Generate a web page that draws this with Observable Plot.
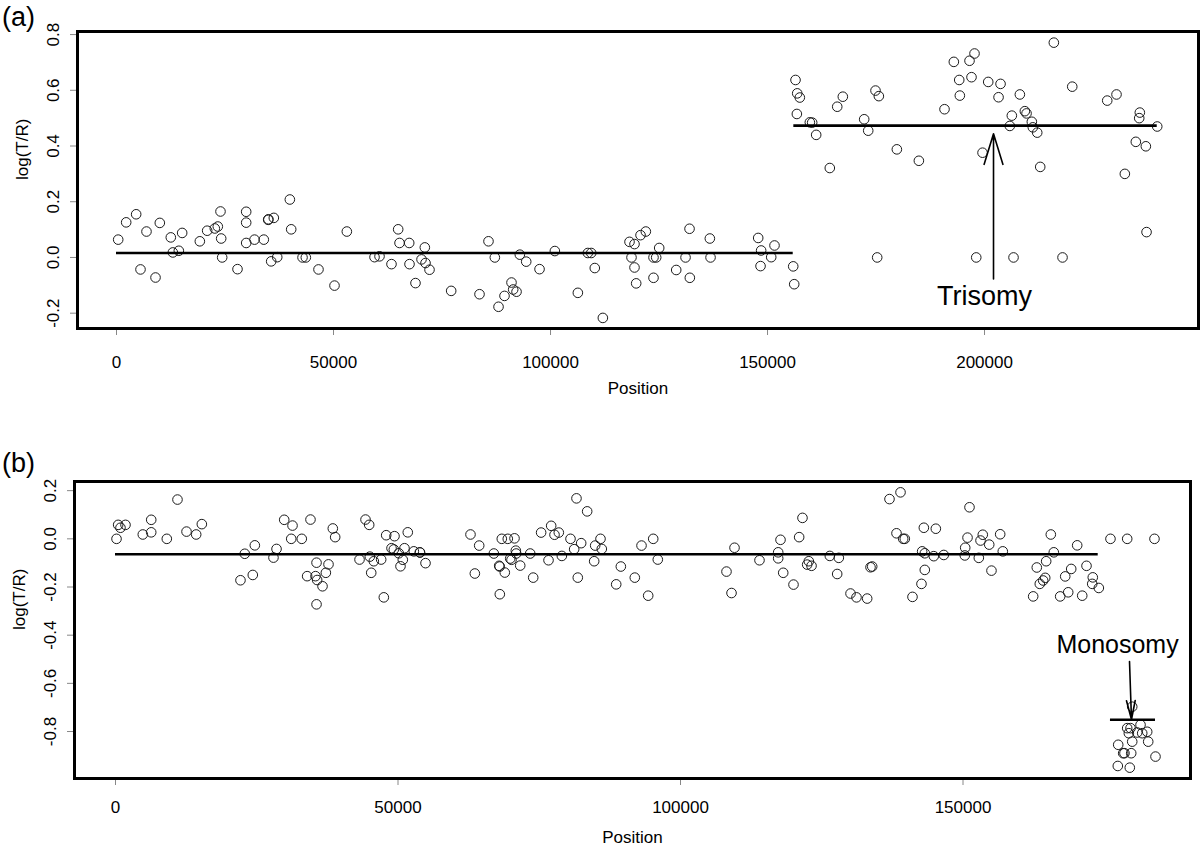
<!DOCTYPE html>
<html>
<head>
<meta charset="utf-8">
<script src="https://cdn.jsdelivr.net/npm/d3@7"></script>
<script src="https://cdn.jsdelivr.net/npm/@observablehq/plot@0.6"></script>
<style>
  html, body { margin: 0; padding: 0; background: #fff; }
  #wrap { position: relative; width: 1200px; height: 854px; overflow: hidden; font-family: "Liberation Sans", Arial, Helvetica, sans-serif; }
  .panel { position: absolute; left: 0; }
  .plabel { position: absolute; left: 2px; font-size: 27px; line-height: 27px; color: #000; }
</style>
</head>
<body>
<div id="wrap">
  <div class="plabel" style="top:4px">(a)</div>
  <div class="plabel" style="top:450px">(b)</div>
  <div id="pa" class="panel" style="top:0px"></div>
  <div id="pb" class="panel" style="top:440px"></div>
</div>
<script>
// ---------- Panel (a): trisomy ----------
const posA = [
  390, 2230, 4530, 5530, 6910, 8990, 9980, 12510, 12980, 14360, 15130, 19200, 20890, 22650, 23340, 23960, 24120, 24350,
  27880, 29880, 29880, 29880, 31800, 33940, 34950, 35000, 36250, 35640, 37030, 39940, 40250, 42860, 43620, 46540, 50230,
  53070, 59450, 60600, 63360, 64900, 65210, 67510, 67440, 68890, 70280, 71040, 71200, 72120, 77110, 83640, 85710, 87170,
  88020, 89400, 91010, 91400, 92170, 92930, 94400, 97470, 101000, 106300, 108600, 109380, 110200, 112060, 118200, 118660,
  119350, 119350, 119740, 120740, 121960, 123730, 124350, 123730, 125040, 128960, 131110, 132030, 132100, 136710, 136870,
  147850, 148530, 148390, 150850, 151610, 155920, 156150,
  156450, 156840, 157440, 156760, 159750, 160290, 161210, 164350, 166060, 167350, 172270, 173200, 174880, 175650, 175270,
  179800, 184870, 190780, 192930, 194170, 194310, 196540, 197690, 197000, 198090, 199540, 200850, 203230, 203690, 205830,
  206290, 206680, 208140, 209290, 209680, 210900, 211130, 212140, 212830, 215970, 217970, 220210, 228270, 230410, 232330,
  234860, 235780, 235640, 237170, 237330, 239790
];
const valA = [
  0.064, 0.126, 0.155, -0.043, 0.093, -0.072, 0.124, 0.072, 0.018, 0.024, 0.088, 0.058, 0.096, 0.104, 0.111, 0.165, 0.068, 0.0,
  -0.042, 0.164, 0.125, 0.052, 0.064, 0.064, 0.135, 0.137, 0.142, -0.014, 0.001, 0.208, 0.101, 0.0, 0.0, -0.043, -0.101,
  0.093, 0.001, 0.004, -0.024, 0.101, 0.052, -0.024, 0.052, -0.092, -0.007, 0.036, -0.020, -0.044, -0.120, -0.132, 0.058, 0.0,
  -0.177, -0.138, -0.090, -0.115, -0.123, 0.010, -0.015, -0.042, 0.023, -0.127, 0.016, 0.016, -0.038, -0.217, 0.056, 0.0,
  0.048, -0.036, -0.093, 0.080, 0.093, 0.0, 0.0, -0.073, 0.034, -0.045, 0.0, 0.103, -0.073, 0.068, 0.0,
  0.070, 0.025, -0.031, 0.001, 0.043, -0.032, -0.096,
  0.637, 0.589, 0.574, 0.515, 0.485, 0.484, 0.440, 0.321, 0.541, 0.577, 0.496, 0.455, 0.599, 0.579, 0.0,
  0.388, 0.347, 0.532, 0.702, 0.637, 0.581, 0.706, 0.732, 0.647, 0.0, 0.376, 0.630, 0.575, 0.623, 0.472,
  0.509, 0.0, 0.585, 0.525, 0.517, 0.487, 0.467, 0.448, 0.325, 0.771, 0.0, 0.613, 0.563, 0.585, 0.300,
  0.415, 0.520, 0.500, 0.399, 0.091, 0.470
];
const segStartA = [0, 156060];
const segEndA = [155920, 239790];
const segValA = [0.016, 0.473];
const xTicksA = [0, 50000, 100000, 150000, 200000];
const yTicksA = [-0.2, 0.0, 0.2, 0.4, 0.6, 0.8];
const noteA = {label: "Trisomy", x: 200000, y: -0.141, arrowX: 202070, arrowFrom: -0.077, arrowTo: 0.444};

// ---------- Panel (b): monosomy ----------
const posB = [
  180, 470, 880, 1770, 4830, 6320, 6320, 9080, 10970, 12570, 14280, 15280, 22120, 22880, 24300, 24660, 27960, 28500, 29860,
  31330, 31100, 32970, 33920, 34510, 35580, 35400, 35690, 35580, 36640, 37230, 37700, 38460, 38880, 43190, 44250, 44900,
  45010, 45260, 45720, 47020, 47490, 47910, 49380, 48850, 49260, 50140, 50440, 50850, 51150, 51730, 52800, 53860, 53900, 54870,
  62830, 64370, 63600, 66960, 67910, 68000, 68020, 68370, 68900, 69430, 69860, 70090, 70620, 70850, 70920, 71630, 73400,
  73930, 75330, 76640, 77110, 77700, 78460, 79000, 80530, 81180, 81590, 81820, 82420, 83480, 84720, 84900, 85840, 86070,
  88620, 89440, 91910, 93100, 94280, 95170, 95980, 108140, 109030, 109560, 113980, 117290, 117290, 117700, 118180, 120000,
  121000, 121590, 122420, 122710, 123190, 126430, 128020, 127730, 130090, 131150, 133040, 133630, 133930, 136990, 138940,
  138230, 139410, 139700, 141060, 142650, 143070, 142770, 143240, 143240, 144830, 145190, 146600, 150320, 150390, 150800,
  151150, 152800, 153100, 153500, 154640, 155040, 156580, 157040, 162420, 163060, 163590, 164190, 164550, 164720, 165540,
  166070, 167200, 168090, 168620, 169150, 170210, 171100, 171860, 172970, 172870, 174040, 176100, 179060, 183890,
  179950, 179060, 179650, 179350, 181420, 180830, 181720, 182600, 179950, 182780, 177470, 178350, 178580, 179770, 184070,
  177400, 179520
];
const valB = [
  0.0, 0.058, 0.046, 0.058, 0.018, 0.079, 0.027, 0.0, 0.163, 0.030, 0.018, 0.061, -0.172, -0.062, -0.150, -0.027, -0.078, -0.042, 0.079,
  0.055, 0.0, 0.0, -0.155, 0.080, -0.099, -0.155, -0.171, -0.272, -0.197, -0.141, -0.106, 0.043, 0.007, -0.086, 0.080, 0.058,
  -0.074, -0.141, -0.093, -0.086, -0.243, 0.015, 0.011, -0.039, -0.044, -0.060, -0.114, -0.087, -0.039, 0.027, -0.052, -0.056, -0.057, -0.101,
  0.018, -0.028, -0.144, -0.061, -0.112, -0.115, -0.230, 0.0, -0.140, 0.0, -0.082, -0.087, 0.002, -0.049, -0.061, -0.111, -0.061,
  -0.161, 0.026, -0.089, 0.054, 0.017, 0.026, -0.071, 0.0, -0.043, 0.168, -0.161, -0.018, 0.114, -0.093, -0.028, 0.0, -0.042,
  -0.189, -0.115, -0.161, -0.028, -0.236, 0.0, -0.086, -0.136, -0.225, -0.037, -0.089, -0.056, -0.081, -0.004, -0.141, -0.190,
  0.007, 0.087, -0.107, -0.093, -0.112, -0.071, -0.079, -0.146, -0.227, -0.243, -0.248, -0.118, -0.115, 0.165, 0.193,
  0.023, 0.0, 0.0, -0.241, -0.187, 0.046, -0.052, -0.060, -0.129, -0.072, 0.042, -0.067, -0.069, -0.037, 0.005,
  0.131, -0.079, -0.007, 0.017, -0.024, -0.132, 0.019, -0.052, -0.239, -0.119, -0.187, -0.173, -0.162, -0.093, 0.018,
  -0.056, -0.239, -0.156, -0.222, -0.125, -0.027, -0.236, -0.112, -0.160, -0.187, -0.204, 0.0, 0.0, 0.0,
  -0.697, -0.786, -0.786, -0.807, -0.772, -0.804, -0.807, -0.801, -0.842, -0.842, -0.855, -0.890, -0.890, -0.890, -0.904,
  -0.943, -0.950
];
const segStartB = [0, 176100];
const segEndB = [173930, 184070];
const segValB = [-0.064, -0.751];
const xTicksB = [0, 50000, 100000, 150000];
const yTicksB = [-0.8, -0.6, -0.4, -0.2, 0.0, 0.2];
const noteB = {label: "Monosomy", x: 177350, y: -0.440, arrowX1: 179470, arrowX2: 179820, arrowFrom: -0.509, arrowTo: -0.750};

// ---------- builders ----------
const zip = (xs, ys) => xs.map((x, i) => ({x, y: ys[i]}));
const segs = (s, e, v) => s.map((d, i) => ({x1: d, x2: e[i], y: v[i]}));
const fmtY = d => d.toFixed(1);
const fmtX = d => String(d);
const FONT = '"Liberation Sans", Arial, Helvetica, sans-serif';

function panel({points, segments, xDomain, yDomain, xTicks, yTicks, height, margins, xLabelOffset, posLabelDy, extra}) {
  return Plot.plot({
    width: 1200,
    height,
    marginLeft: margins[0],
    marginRight: margins[1],
    marginTop: margins[2],
    marginBottom: margins[3],
    style: {fontFamily: FONT, fontSize: "17px", background: "transparent", color: "#000", overflow: "visible"},
    x: {domain: xDomain},
    y: {domain: yDomain},
    marks: [
      Plot.axisX({ticks: xTicks, tickFormat: fmtX, tickSize: 7, tickPadding: xLabelOffset - 7, stroke: "#888", label: null}),
      Plot.axisY({ticks: yTicks, tickFormat: fmtY, tickSize: 7, tickPadding: 12, tickRotate: -90, stroke: "#888", label: null}),
      Plot.dot(points, {x: "x", y: "y", r: 4.8, stroke: "#1a1a1a", strokeWidth: 1, fill: "none"}),
      Plot.ruleY(segments, {y: "y", x1: "x1", x2: "x2", stroke: "#000", strokeWidth: 2.6}),
      ...extra,
      Plot.frame({stroke: "#000", strokeWidth: 3}),
      Plot.text(["Position"], {frameAnchor: "bottom", dy: posLabelDy, text: d => d, fontSize: 17, fill: "#000"}),
      Plot.text(["log(T/R)"], {frameAnchor: "left", dx: -55, rotate: -90, text: d => d, fontSize: 17, fill: "#000"})
    ]
  });
}

const plotA = panel({
  points: zip(posA, valA),
  segments: segs(segStartA, segEndA, segValA),
  xDomain: [-8986, 249300],
  yDomain: [-0.255, 0.811],
  xTicks: xTicksA,
  yTicks: yTicksA,
  height: 420,
  margins: [77, 2, 31, 92],
  xLabelOffset: 27,
  posLabelDy: 65,
  extra: [
    Plot.arrow([noteA], {x1: "arrowX", x2: "arrowX", y1: "arrowFrom", y2: "arrowTo", stroke: "#000", strokeWidth: 1.6, headLength: 30, headAngle: 34}),
    Plot.text([noteA], {x: "x", y: "y", text: "label", fontSize: 27, fill: "#000"})
  ]
});

const plotB = panel({
  points: zip(posB, valB),
  segments: segs(segStartB, segEndB, segValB),
  xDomain: [-7257, 190265],
  yDomain: [-0.995, 0.238],
  xTicks: xTicksB,
  yTicks: yTicksB,
  height: 414,
  margins: [74, 10, 41, 76],
  xLabelOffset: 22,
  posLabelDy: 64,
  extra: [
    Plot.arrow([noteB], {x1: "arrowX1", x2: "arrowX2", y1: "arrowFrom", y2: "arrowTo", stroke: "#000", strokeWidth: 1.6, headLength: 30, headAngle: 26}),
    Plot.text([noteB], {x: "x", y: "y", text: "label", fontSize: 25, fill: "#000"})
  ]
});

document.getElementById("pa").appendChild(plotA);
document.getElementById("pb").appendChild(plotB);
</script>
</body>
</html>
